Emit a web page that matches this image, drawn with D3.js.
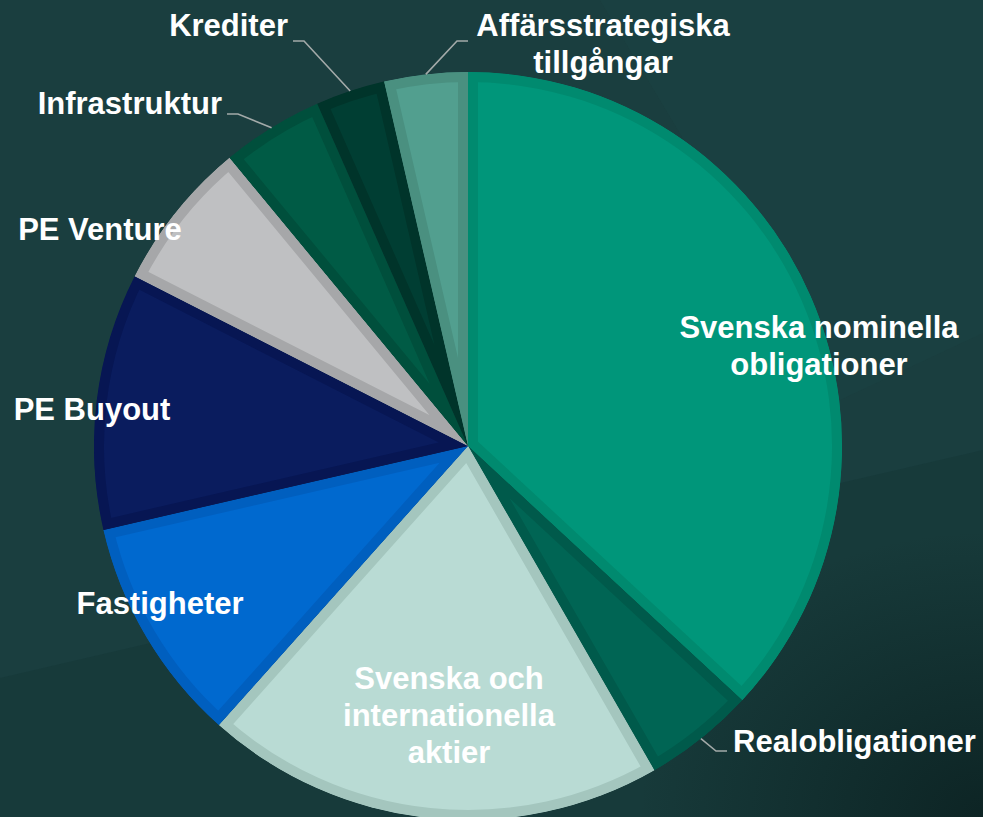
<!DOCTYPE html>
<html lang="sv">
<head>
<meta charset="UTF-8">
<title>Portföljfördelning</title>
<script src="https://d3js.org/d3.v7.min.js"></script>
<style>
  body { margin: 0; padding: 0; background: #1a3e3f; overflow: hidden; }
  text { font-family: "Liberation Sans", Arial, sans-serif; font-weight: bold; fill: #ffffff; }
</style>
</head>
<body>
<script>
// Data
const categories = ["Svenska nominella obligationer", "Realobligationer", "Svenska och internationella aktier",
  "Fastigheter", "PE Buyout", "PE Venture", "Infrastruktur", "Krediter", "Affärsstrategiska tillgångar"];
const values = [36.9, 4.8, 19.9, 9.8, 11.1, 6.5, 4.4, 3.0, 3.6];
const fills   = ["#00967a", "#006554", "#b9dbd4", "#0069cf", "#0a1c5e", "#bfc0c2", "#005b45", "#003e33", "#529f8f"];
const borders = ["#008a6f", "#005a4b", "#a4c6be", "#005fbf", "#071653", "#a6a7a9", "#004f3c", "#00342a", "#4a9080"];

// label text split into lines
const labelLines = [
  ["Svenska nominella", "obligationer"], ["Realobligationer"], ["Svenska och", "internationella", "aktier"],
  ["Fastigheter"], ["PE Buyout"], ["PE Venture"], ["Infrastruktur"], ["Krediter"], ["Affärsstrategiska", "tillgångar"]
];
// label placement: [x, y of first baseline, anchor], relative to pie centre
const labelPos = [
  [351, -108, "middle"], [265, 306, "start"], [-19, 243, "middle"],
  [-308, 168, "middle"], [-376, -26, "middle"], [-368, -206, "middle"],
  [-246, -332, "end"], [-180, -410, "end"], [135, -410, "middle"]
];
// leader lines for outside labels: [slice index, elbow x, end x, y]
const leaders = [
  [1, 248, 259, 305], [6, -230, -241, -332], [7, -164, -175, -405], [8, -11, 0, -405]
];

const width = 983, height = 817;
const cx = 468, cy = 446, radius = 374;

const svg = d3.select("body").append("svg")
  .attr("width", width).attr("height", height);
const defs = svg.append("defs");

// background with some soft shading
const vg = defs.append("radialGradient").attr("id", "vign")
  .attr("cx", 1).attr("cy", 1).attr("r", 0.35);
vg.append("stop").attr("offset", "0%").attr("stop-color", "#0c2222").attr("stop-opacity", 0.9);
vg.append("stop").attr("offset", "100%").attr("stop-color", "#0c2222").attr("stop-opacity", 0);

svg.append("rect").attr("width", width).attr("height", height).attr("fill", "#1a3e3f");
svg.append("path").attr("d", "M0,678 L983,450 L983,817 L0,817 Z").attr("fill", "#153536").attr("opacity", 0.45);
svg.append("path").attr("d", "M840,400 L983,333 L983,0 L600,0 Z").attr("fill", "#1e4646").attr("opacity", 0.35);
svg.append("rect").attr("width", width).attr("height", height).attr("fill", "url(#vign)");

const pie = d3.pie().sort(null).value(d => d)(values);
const arc = d3.arc().innerRadius(0).outerRadius(radius);

const g = svg.append("g").attr("transform", `translate(${cx},${cy})`);

// each slice: wide stroke clipped to the slice itself -> inner border
const slice = g.selectAll("g.slice")
  .data(pie)
  .enter()
  .append("g")
  .attr("class", "slice");

slice.append("clipPath")
  .attr("id", (d, i) => "clip" + i)
  .append("path")
  .attr("d", arc);

slice.append("path")
  .attr("d", arc)
  .attr("fill", (d, i) => fills[i])
  .attr("stroke", (d, i) => borders[i])
  .attr("stroke-width", 20)
  .attr("clip-path", (d, i) => `url(#clip${i})`);

// leader lines, starting on the rim at the slice's mid angle
leaders.forEach(([i, ex, tx, y]) => {
  const a = (pie[i].startAngle + pie[i].endAngle) / 2;
  const px = radius * Math.sin(a), py = -radius * Math.cos(a);
  g.append("polyline")
    .attr("points", `${px},${py} ${ex},${y} ${tx},${y}`)
    .attr("fill", "none")
    .attr("stroke", "#a3aaa9")
    .attr("stroke-width", 1.6);
});

// labels
labelLines.forEach((lines, i) => {
  const [x, y, anchor] = labelPos[i];
  const t = g.append("text")
    .attr("x", x).attr("y", y)
    .attr("text-anchor", anchor)
    .attr("font-size", "31px");
  lines.forEach((s, k) => {
    t.append("tspan").attr("x", x).attr("dy", k === 0 ? 0 : 37).text(s);
  });
});
</script>
</body>
</html>
